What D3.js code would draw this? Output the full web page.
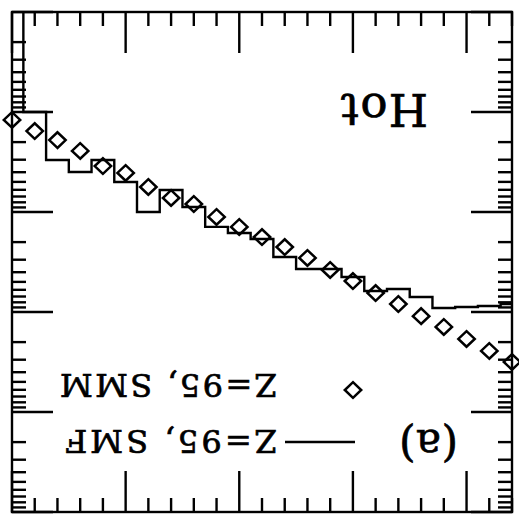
<!DOCTYPE html>
<html>
<head>
<meta charset="utf-8">
<script src="https://cdn.jsdelivr.net/npm/d3@7"></script>
<style>
  html, body { margin: 0; padding: 0; background: #fff; }
  svg { display: block; }
</style>
</head>
<body>
<script>
// Excitation energy bins (one unit each) and the two spectra
const energies = d3.range(8, 31);   // 8 .. 30
const smmValues = [3.16e-2, 2.45e-2, 1.86e-2, 1.41e-2, 1.10e-2, 8.32e-3, 6.46e-3, 4.90e-3,
                   3.80e-3, 2.88e-3, 2.24e-3, 1.78e-3, 1.41e-3, 1.12e-3, 8.32e-4, 7.24e-4,
                   5.62e-4, 4.07e-4, 3.47e-4, 2.45e-4, 1.91e-4, 1.55e-4, 1.20e-4];
const smfValues = [8.32e-3, 8.71e-3, 8.91e-3, 9.12e-3, 7.08e-3, 5.89e-3, 6.17e-3, 4.47e-3,
                   3.72e-3, 3.72e-3, 2.82e-3, 1.86e-3, 1.62e-3, 1.41e-3, 8.91e-4, 6.03e-4,
                   1.00e-3, 5.01e-4, 3.02e-4, 3.98e-4, 3.02e-4, 1.00e-4, 0];
const xDomain = [8, 30];
const yDomain = [1e-5, 1];
const legendLabels = ["Z=95, SMF", "Z=95, SMM"];
const panelLabel = "(a)";
const regimeLabel = "Hot";

const W = 519, H = 514;
const plot = { left: 7, right: 507, top: 2, bottom: 502 };

const x = d3.scaleLinear(xDomain, [plot.left, plot.right]);
const y = d3.scaleLog(yDomain, [plot.bottom, plot.top]);
const yv = v => v > 0 ? y(v) : plot.bottom + 20;

const svg = d3.select("body").append("svg")
  .attr("width", W).attr("height", H);

svg.append("defs").append("clipPath").attr("id", "frame-clip")
  .append("rect")
  .attr("x", plot.left).attr("y", plot.top)
  .attr("width", plot.right - plot.left).attr("height", plot.bottom - plot.top);

// whole panel is drawn turned half a revolution
const g = svg.append("g").attr("transform", `rotate(180 ${W / 2} ${H / 2})`);

const ink = "#000";
const MAJOR = 41, MINOR = 14;
const LW = 2.4;

// ticks on all four sides, pointing inward
const xTicks = d3.range(xDomain[0], xDomain[1] + 1);
const isMajorX = v => v % 5 === 0;
const yTicks = y.ticks();
const isMajorY = v => Math.abs(Math.log10(v) - Math.round(Math.log10(v))) < 1e-9;

const tickG = g.append("g").attr("stroke", ink).attr("stroke-width", LW);
xTicks.forEach(v => {
  const len = isMajorX(v) ? MAJOR : MINOR;
  tickG.append("line").attr("x1", x(v)).attr("x2", x(v))
    .attr("y1", plot.bottom).attr("y2", plot.bottom - len);
  tickG.append("line").attr("x1", x(v)).attr("x2", x(v))
    .attr("y1", plot.top).attr("y2", plot.top + len);
});
yTicks.forEach(v => {
  const len = isMajorY(v) ? MAJOR : MINOR;
  tickG.append("line").attr("y1", y(v)).attr("y2", y(v))
    .attr("x1", plot.left).attr("x2", plot.left + len);
  tickG.append("line").attr("y1", y(v)).attr("y2", y(v))
    .attr("x1", plot.right).attr("x2", plot.right - len);
});

// frame
g.append("rect")
  .attr("x", plot.left).attr("y", plot.top)
  .attr("width", plot.right - plot.left).attr("height", plot.bottom - plot.top)
  .attr("fill", "none").attr("stroke", ink).attr("stroke-width", LW);

// SMF histogram: one-unit bins centred on each energy
const histPts = [];
energies.forEach((e, i) => {
  histPts.push([e - 0.5, smfValues[i]]);
  histPts.push([e + 0.5, smfValues[i]]);
});
g.append("path")
  .attr("clip-path", "url(#frame-clip)")
  .attr("d", d3.line().x(d => x(d[0])).y(d => yv(d[1]))(histPts))
  .attr("fill", "none").attr("stroke", ink).attr("stroke-width", LW)
  .attr("stroke-linejoin", "miter");

// SMM points as open diamonds
const diamond = "M0,-7.8L8.2,0L0,7.8L-8.2,0Z";
g.append("g").selectAll("path.pt")
  .data(energies.map((e, i) => [e, smmValues[i]]))
  .join("path")
  .attr("class", "pt")
  .attr("d", diamond)
  .attr("transform", d => `translate(${x(d[0])},${y(d[1])})`)
  .attr("fill", "none").attr("stroke", ink).attr("stroke-width", 2.5);

// legend
const font = "'DejaVu Serif', serif";
g.append("line")
  .attr("x1", 164).attr("x2", 234).attr("y1", 72).attr("y2", 72)
  .attr("stroke", ink).attr("stroke-width", LW);
g.append("path").attr("d", diamond)
  .attr("transform", "translate(166,124)")
  .attr("fill", "none").attr("stroke", ink).attr("stroke-width", 2.5);

const label = (txt, xPos, yPos, size, len) =>
  g.append("text").text(txt)
    .attr("x", xPos).attr("y", yPos)
    .attr("font-family", font).attr("font-size", size)
    .attr("textLength", len).attr("lengthAdjust", "spacing")
    .attr("fill", ink).attr("stroke", ink).attr("stroke-width", 0.7);

label(legendLabels[0], 242, 84, 32, 212);
label(legendLabels[1], 242, 140, 32, 217);
label(panelLabel, 61, 84, 42, 59);
label(regimeLabel, 91, 420, 45, 87);
</script>
</body>
</html>
